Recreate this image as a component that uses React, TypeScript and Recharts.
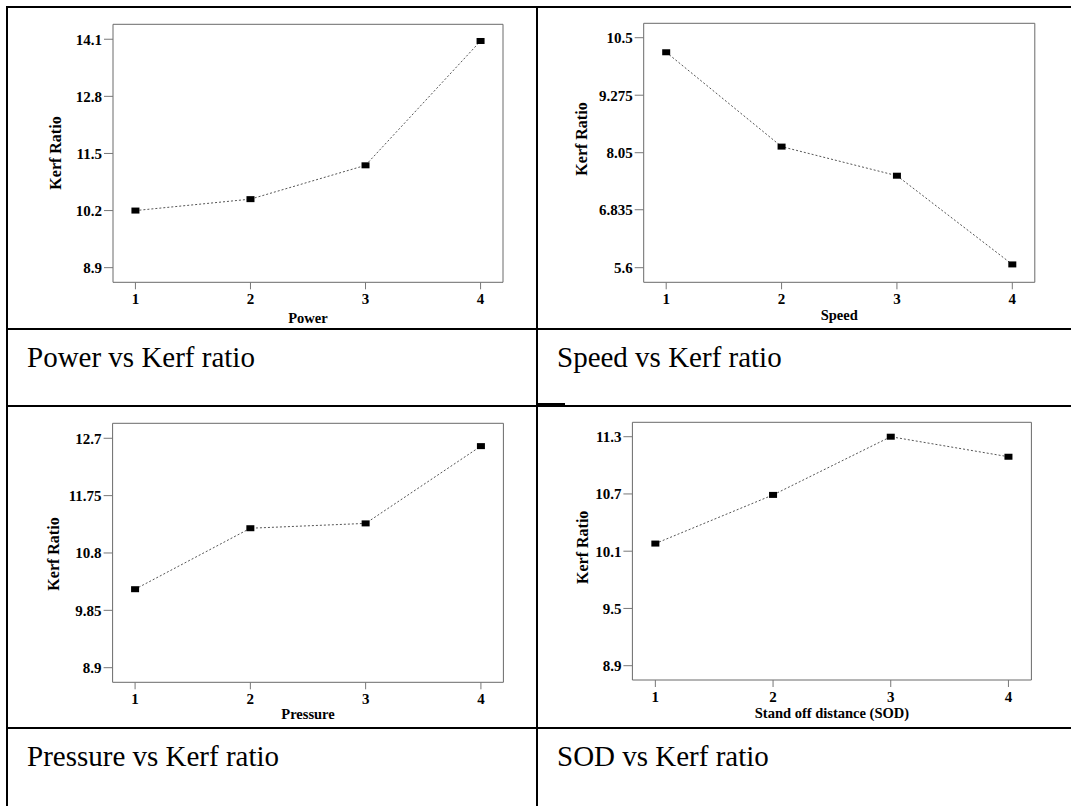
import React from "react";
import { LineChart, Line, XAxis, YAxis, ReferenceArea } from "recharts";

const SERIF = '"Liberation Serif", "Times New Roman", Times, serif';

// factor levels on the x axis
const levels = [1, 2, 3, 4];

// mean kerf ratio per level
const powerKerf = [10.2, 10.46, 11.23, 14.06];
const speedKerf = [10.19, 8.18, 7.56, 5.67];
const pressureKerf = [10.2, 11.21, 11.29, 12.57];
const sodKerf = [10.18, 10.69, 11.3, 11.09];

// y tick labels
const powerTicks = [8.9, 10.2, 11.5, 12.8, 14.1];
const speedTicks = [5.6, 6.835, 8.05, 9.275, 10.5];
const pressureTicks = [8.9, 9.85, 10.8, 11.75, 12.7];
const sodTicks = [8.9, 9.5, 10.1, 10.7, 11.3];

const xTitles = ["Power", "Speed", "Pressure", "Stand off distance (SOD)"];
const captions = [
  "Power vs Kerf ratio",
  "Speed vs Kerf ratio",
  "Pressure vs Kerf ratio",
  "SOD vs Kerf ratio",
];
const yTitle = "Kerf Ratio";

const X_DOMAIN: [number, number] = [0.805, 4.195];
const CELL_W = 528;
const CELL_H = 320;

const panels = [
  {
    values: powerKerf,
    ticks: powerTicks,
    yDomain: [8.567, 14.44] as [number, number],
    x: 8,
    y: 8,
    margin: { top: 16.3, right: 33, bottom: 45.7, left: 105 },
    yLabel: [52.5, 145],
    xLabelDy: 41,
  },
  {
    values: speedKerf,
    ticks: speedTicks,
    yDomain: [5.289, 10.807] as [number, number],
    x: 538,
    y: 8,
    margin: { top: 15.3, right: 31.2, bottom: 45.7, left: 105.7 },
    yLabel: [49.3, 131],
    xLabelDy: 38,
  },
  {
    values: pressureKerf,
    ticks: pressureTicks,
    yDomain: [8.658, 12.948] as [number, number],
    x: 8,
    y: 407,
    margin: { top: 16.3, right: 32.6, bottom: 44.7, left: 104.6 },
    yLabel: [50.9, 147],
    xLabelDy: 37,
  },
  {
    values: sodKerf,
    ticks: sodTicks,
    yDomain: [8.75, 11.451] as [number, number],
    x: 538,
    y: 407,
    margin: { top: 15.3, right: 34.6, bottom: 47, left: 94.4 },
    yLabel: [50.4, 140.3],
    xLabelDy: 38,
  },
];

const tickStyle = { fill: "#000", fontSize: 15, fontWeight: 700, fontFamily: SERIF };
const titleStyle = { fill: "#000", fontSize: 16, fontWeight: 700, fontFamily: SERIF };

function Panel({ idx }: { idx: number }) {
  const p = panels[idx];
  const data = levels.map((level, i) => ({ level, kerf: p.values[i] }));
  const plotRight = CELL_W - p.margin.right;
  const plotBottom = CELL_H - p.margin.bottom;
  const cx = (p.margin.left + plotRight) / 2;
  const [lx, ly] = p.yLabel;

  return (
    <div style={{ position: "absolute", left: p.x, top: p.y }}>
      <LineChart
        width={CELL_W}
        height={CELL_H}
        data={data}
        margin={{ top: p.margin.top, right: p.margin.right, bottom: 0, left: 0 }}
      >
        <XAxis
          type="number"
          dataKey="level"
          domain={X_DOMAIN}
          ticks={levels}
          allowDataOverflow
          axisLine={false}
          tickLine={{ stroke: "#777" }}
          tickSize={7}
          tickMargin={4}
          height={p.margin.bottom}
          tick={tickStyle}
          label={() => (
            <text x={cx} y={plotBottom + p.xLabelDy} textAnchor="middle" {...titleStyle} fontSize={14.5}>
              {xTitles[idx]}
            </text>
          )}
        />
        <YAxis
          type="number"
          domain={p.yDomain}
          ticks={p.ticks}
          allowDataOverflow
          axisLine={false}
          tickLine={{ stroke: "#777" }}
          tickSize={9}
          tickMargin={2}
          width={p.margin.left}
          tick={tickStyle}
          label={() => (
            <text
              x={lx}
              y={ly}
              textAnchor="middle"
              transform={`rotate(-90 ${lx} ${ly})`}
              {...titleStyle}
            >
              {yTitle}
            </text>
          )}
        />
        <ReferenceArea
          x1={X_DOMAIN[0]}
          x2={X_DOMAIN[1]}
          y1={p.yDomain[0]}
          y2={p.yDomain[1]}
          fill="none"
          stroke="#6a6a6a"
          strokeWidth={1}
          ifOverflow="visible"
        />
        <Line
          dataKey="kerf"
          stroke="#555"
          strokeWidth={1}
          strokeDasharray="2 2"
          isAnimationActive={false}
          activeDot={false}
          dot={(d: any) => (
            <rect key={`m${d.index}`} x={d.cx - 4} y={d.cy - 3} width={8} height={6} fill="#000" />
          )}
        />
      </LineChart>
    </div>
  );
}

export default function App() {
  return (
    <div
      style={{
        position: "absolute",
        left: 0,
        top: 0,
        width: 1071,
        height: 806,
        overflow: "hidden",
        background: "#fff",
      }}
    >
      <svg width={1071} height={806} style={{ position: "absolute", left: 0, top: 0 }}>
        {/* table rules */}
        <g stroke="#000" strokeWidth={2}>
          <line x1={6} y1={7} x2={1071} y2={7} />
          <line x1={6} y1={329} x2={1071} y2={329} />
          <line x1={6} y1={406} x2={1071} y2={406} />
          <line x1={6} y1={728} x2={1071} y2={728} />
          <line x1={7} y1={6} x2={7} y2={806} />
          <line x1={537} y1={6} x2={537} y2={806} />
          <line x1={537} y1={404} x2={565} y2={404} />
        </g>
        <g fontFamily={SERIF} fontSize={29} fill="#000">
          <text x={27} y={366.7}>{captions[0]}</text>
          <text x={557} y={366.7}>{captions[1]}</text>
          <text x={27} y={766}>{captions[2]}</text>
          <text x={557} y={766}>{captions[3]}</text>
        </g>
      </svg>
      {panels.map((_, i) => (
        <Panel key={i} idx={i} />
      ))}
    </div>
  );
}
